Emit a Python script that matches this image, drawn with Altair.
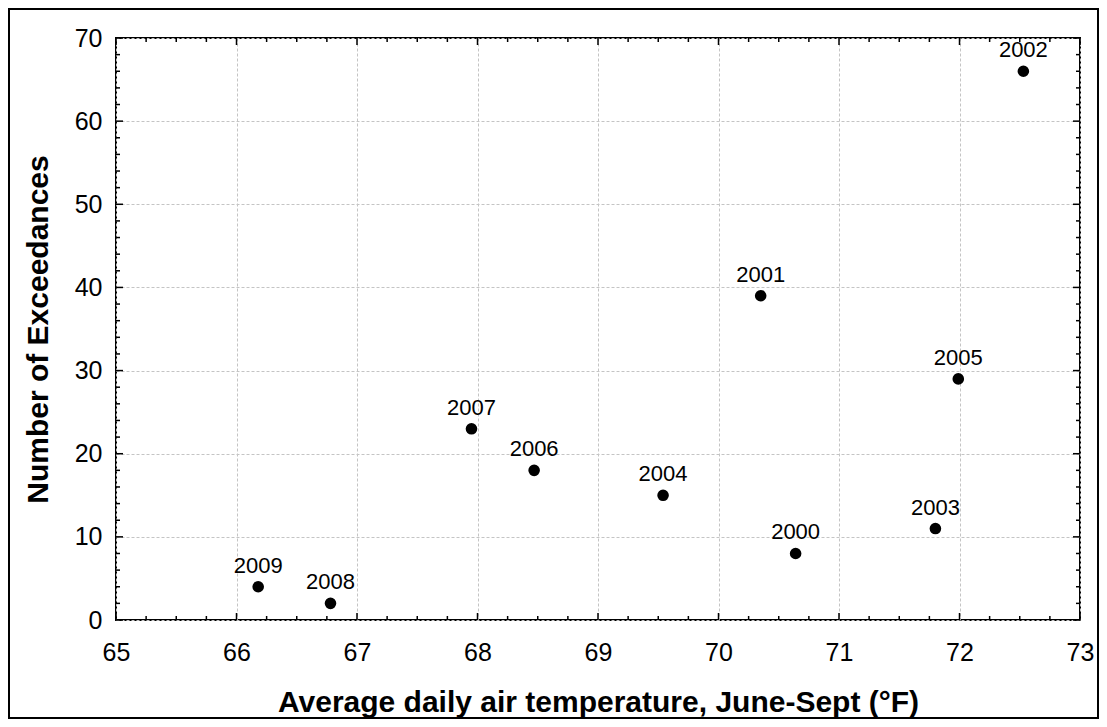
import altair as alt
import pandas as pd

# ---- data ----
years = ["2009", "2008", "2007", "2006", "2004", "2001", "2000", "2003", "2005", "2002"]
temperature = [66.18, 66.78, 67.95, 68.47, 69.54, 70.35, 70.64, 71.80, 71.99, 72.53]
exceedances = [4, 2, 23, 18, 15, 39, 8, 11, 29, 66]

x_major = [65, 66, 67, 68, 69, 70, 71, 72, 73]
x_minor = [v + q for v in x_major[:-1] for q in (0.25, 0.5, 0.75)]
y_major = [0, 10, 20, 30, 40, 50, 60, 70]
y_minor = [v + q for v in y_major[:-1] for q in (2, 4, 6, 8)]

W, H = 964, 582
PAD_L, PAD_T = 108, 30
TOTAL_W, TOTAL_H = 1091, 711
MAJ, MIN = 7, 4
FONT = "Liberation Sans"

df = pd.DataFrame({"year": years, "temp": temperature, "exc": exceedances})

x_scale = alt.Scale(domain=[65, 73], nice=False, zero=False)
y_scale = alt.Scale(domain=[0, 70], nice=False, zero=True)

x_axis = alt.Axis(values=x_major, title="Average daily air temperature, June-Sept (°F)",
                  labelPadding=20, titlePadding=22, titleFontSize=30, format="d",
                  labelFlush=False)
y_axis = alt.Axis(values=y_major, title="Number of Exceedances",
                  labelPadding=14, titlePadding=21, titleFontSize=30, format="d",
                  labelFlush=False)

points = alt.Chart(df).mark_circle(size=135, color="black", opacity=1).encode(
    x=alt.X("temp:Q", scale=x_scale, axis=x_axis),
    y=alt.Y("exc:Q", scale=y_scale, axis=y_axis),
)

labels = alt.Chart(df).mark_text(
    font=FONT, fontSize=22, dy=-14, baseline="alphabetic",
    align="center", color="black"
).encode(
    x=alt.X("temp:Q", scale=x_scale, axis=x_axis),
    y=alt.Y("exc:Q", scale=y_scale, axis=y_axis),
    text="year:N",
)


def xticks(vals, y0, y1):
    return alt.Chart(pd.DataFrame({"temp": vals})).mark_rule(color="black", strokeWidth=1.5).encode(
        x=alt.X("temp:Q", scale=x_scale, axis=x_axis), y=alt.value(y0), y2=alt.value(y1))


def yticks(vals, x0, x1):
    return alt.Chart(pd.DataFrame({"exc": vals})).mark_rule(color="black", strokeWidth=1.5).encode(
        y=alt.Y("exc:Q", scale=y_scale, axis=y_axis), x=alt.value(x0), x2=alt.value(x1))


tick_layers = [
    xticks(x_major, H, H - MAJ), xticks(x_minor, H, H - MIN),
    xticks(x_major, 0, MAJ), xticks(x_minor, 0, MIN),
    yticks(y_major, 0, MAJ), yticks(y_minor, 0, MIN),
    yticks(y_major, W, W - MAJ), yticks(y_minor, W, W - MIN),
]

pad_r = TOTAL_W - PAD_L - W
pad_b = TOTAL_H - PAD_T - H

border = alt.Chart(pd.DataFrame({"a": [0]})).mark_rect(
    fillOpacity=0, stroke="black", strokeWidth=2
).encode(x=alt.value(1 - PAD_L), x2=alt.value(W + pad_r - 1),
         y=alt.value(1 - PAD_T), y2=alt.value(H + pad_b - 1))

chart = alt.layer(border, *tick_layers, points, labels).properties(
    width=W, height=H,
    autosize=alt.AutoSizeParams(type="none"),
    padding={"left": PAD_L, "top": PAD_T, "right": pad_r, "bottom": pad_b},
    background="white",
).configure_view(
    stroke="black", strokeWidth=2
).configure_axis(
    grid=True, gridColor="#c4c4c4", gridDash=[3, 2], gridWidth=1,
    domain=False, ticks=False,
    labelFont=FONT, labelFontSize=25, labelColor="black",
    titleFont=FONT, titleFontWeight="bold", titleColor="black",
)

chart.save("out.html", embed_options={"renderer": "svg", "actions": False})
